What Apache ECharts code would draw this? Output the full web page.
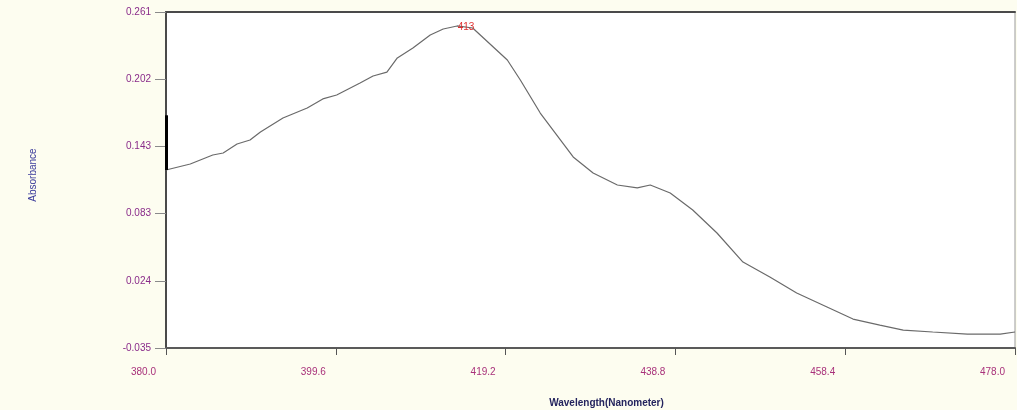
<!DOCTYPE html>
<html>
<head>
<meta charset="utf-8">
<script src="https://cdn.jsdelivr.net/npm/echarts@6/dist/echarts.min.js"></script>
<style>html,body{margin:0;padding:0;background:#fdfdf0;}#c{width:1017px;height:410px;}</style>
</head>
<body>
<div id="c"></div>
<script>
const wavelengths = [380.0,382.8,385.4,386.6,388.2,389.7,390.9,393.5,396.3,398.1,399.7,402.4,403.9,405.5,406.7,408.5,410.5,412.0,413.6,415.4,415.9,419.4,420.9,423.2,427.0,429.3,432.1,434.4,435.9,438.2,440.8,443.6,446.6,449.7,452.8,456.3,459.3,462.4,465.1,468.5,472.5,476.3,478.0];
const absorbance = [0.1218,0.1271,0.1350,0.1368,0.1447,0.1482,0.1553,0.1676,0.1764,0.1844,0.1879,0.1984,0.2046,0.2081,0.2205,0.2293,0.2407,0.2460,0.2487,0.2469,0.2434,0.2187,0.2011,0.1720,0.1333,0.1192,0.1086,0.1060,0.1086,0.1015,0.0866,0.0663,0.0407,0.0275,0.0134,0.0011,-0.0095,-0.0148,-0.0192,-0.0209,-0.0227,-0.0227,-0.0209];
const xTicks = [380.0,399.6,419.2,438.8,458.4,478.0];
const yTicks = [-0.035,0.0242,0.0834,0.1426,0.2018,0.261];
const peakLabel = {wavelength: 413.6, value: 0.2487, text: '413'};
const leftMarker = {wavelength: 380.0, from: 0.1218, to: 0.170};

const chart = echarts.init(document.getElementById('c'));
const labelFont = 'Liberation Sans, Arial, sans-serif';
chart.setOption({
  backgroundColor: '#fdfdf0',
  animation: false,
  grid: {left: 166, right: 2, top: 12, bottom: 62, outerBoundsMode: 'none', containLabel: false, show: true, backgroundColor: '#ffffff', borderColor: '#9a9a9a', borderWidth: 1},
  xAxis: [{
    type: 'value', min: 380, max: 478,
    name: 'Wavelength(Nanometer)', nameLocation: 'middle', nameGap: 50,
    nameTextStyle: {color: '#24245e', fontSize: 10, fontWeight: 'bold', fontFamily: labelFont, padding: [0,0,0,32]},
    axisLine: {show: true, onZero: false, lineStyle: {color: '#5a5a5a', width: 2}},
    axisTick: {show: true, length: 7, customValues: xTicks, lineStyle: {color: '#555', width: 1}},
    axisLabel: {customValues: xTicks, color: '#a8307a', fontSize: 10, fontFamily: labelFont, margin: 19, align: 'right', padding: [0,10,0,0],
      formatter: v => v.toFixed(1)},
    splitLine: {show: false}
  }, {
    type: 'value', min: 380, max: 478, position: 'top',
    axisLine: {show: true, onZero: false, lineStyle: {color: '#4a4a4a', width: 2}},
    axisTick: {show: false}, axisLabel: {show: false}, splitLine: {show: false}
  }],
  yAxis: {
    type: 'value', min: -0.035, max: 0.261,
    name: 'Absorbance', nameLocation: 'middle', nameGap: 128, nameRotate: 90,
    nameTextStyle: {color: '#3a3a9a', fontSize: 10, fontFamily: labelFont, padding: [0,0,0,10]},
    axisLine: {show: true, onZero: false, lineStyle: {color: '#4a4a4a', width: 2}},
    axisTick: {show: true, length: 11, customValues: yTicks, lineStyle: {color: '#8a8a8a', width: 1}},
    axisLabel: {customValues: yTicks, color: '#8a2c8a', fontSize: 10, fontFamily: labelFont, margin: 15, padding: [4,0,0,0],
      formatter: v => v.toFixed(3)},
    splitLine: {show: false}
  },
  series: [{
    type: 'line',
    data: wavelengths.map((w, i) => [w, absorbance[i]]),
    showSymbol: false, symbol: 'none',
    lineStyle: {color: '#6a6a6a', width: 1.2},
    markPoint: {
      symbol: 'rect', symbolSize: [1, 1],
      itemStyle: {color: 'rgba(0,0,0,0)'},
      label: {show: true, formatter: peakLabel.text, color: '#e03030', fontSize: 10, fontFamily: labelFont, position: 'inside', offset: [9, 1]},
      data: [{coord: [peakLabel.wavelength, peakLabel.value]}]
    },
    markLine: {
      symbol: 'none', silent: true, label: {show: false},
      lineStyle: {color: '#000', width: 3, type: 'solid'},
      data: [[{coord: [leftMarker.wavelength, leftMarker.from]}, {coord: [leftMarker.wavelength, leftMarker.to]}]]
    }
  }]
});
</script>
</body>
</html>
